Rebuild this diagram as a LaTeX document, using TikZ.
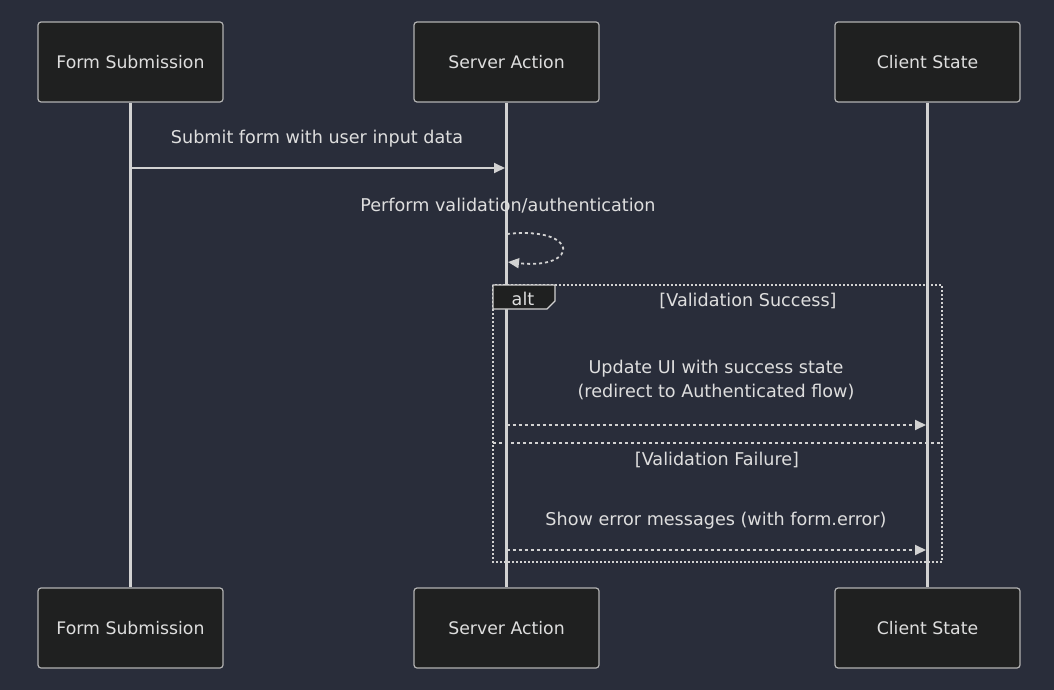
\documentclass[tikz,border=0pt]{standalone}
\usepackage{fontspec}
\setmainfont{DejaVu Sans}
\usetikzlibrary{arrows.meta}
\definecolor{bg}{RGB}{41,45,58}
\definecolor{boxfill}{RGB}{31,32,32}
\definecolor{ln}{RGB}{210,210,210}
\definecolor{txt}{RGB}{222,222,222}
\tikzset{
  actor/.style={draw=ln!85!black, line width=1.2pt, fill=boxfill, rounded corners=3pt, minimum width=185pt, minimum height=80pt, text=txt, font=\fontsize{17.3}{20}\selectfont, inner sep=0pt},
  life/.style={draw=ln, line width=2.2pt},
  msg/.style={draw=ln, line width=1.8pt, -{Triangle[length=11pt,width=10pt]}},
  reply/.style={msg, dash pattern=on 3pt off 3pt},
  lbl/.style={text=txt, font=\fontsize{17.6}{24}\selectfont, align=center, inner sep=0pt},
  frame/.style={draw=ln, line width=2pt, dash pattern=on 2pt off 2pt},
}
\begin{document}
\begin{tikzpicture}[x=1pt,y=-1pt]
\fill[bg] (0,0) rectangle (1054,690);
\useasboundingbox (0,0) rectangle (1054,690);
% participants
\node[actor] (fs) at (130.5,62) {Form Submission};
\node[actor] (sa) at (506.5,62) {Server Action};
\node[actor] (cs) at (927.5,62) {Client State};
\node[actor] (fsb) at (130.5,628) {Form Submission};
\node[actor] (sab) at (506.5,628) {Server Action};
\node[actor] (csb) at (927.5,628) {Client State};
% lifelines
\draw[life] (fs.south) -- (fsb.north);
\draw[life] (sa.south) -- (sab.north);
\draw[life] (cs.south) -- (csb.north);
% message 1
\coordinate (m1a) at (130.5,168);
\coordinate (m1b) at (505,168);
\node[lbl] (t1) at (317,139) {Submit form with user input data};
\draw[msg] (m1a) -- (m1b);
% self message
\node[lbl] (t2) at (508,206) {Perform validation/authentication};
\coordinate (s1) at (507,234);
\coordinate (s2) at (508,262);
\draw[reply] (s1) .. controls (580,226) and (580,270) .. (s2);
% alt frame
\coordinate (fa) at (493,285);
\coordinate (fb) at (942,562);
\draw[frame] (fa) rectangle (fb);
\path[draw=ln, line width=1.2pt, fill=boxfill] (493,285) -- (555,285) -- (555,301) -- (547,309) -- (493,309) -- cycle;
\node[lbl] (altlbl) at (523,299) {alt};
\node[lbl] (c1) at (748,301) {[Validation Success]};
% message 2
\node[lbl] (t3) at (716,380) {Update UI with success state\\(redirect to Authenticated flow)};
\coordinate (m2a) at (506.5,425);
\coordinate (m2b) at (926,425);
\draw[reply] (m2a) -- (m2b);
% divider
\coordinate (da) at (493,443);
\coordinate (db) at (942,443);
\draw[draw=ln, line width=2pt, dash pattern=on 3pt off 3pt] (da) -- (db);
\node[lbl] (c2) at (717,460) {[Validation Failure]};
% message 3
\node[lbl] (t4) at (716,521) {Show error messages (with form.error)};
\coordinate (m3a) at (506.5,550);
\coordinate (m3b) at (926,550);
\draw[reply] (m3a) -- (m3b);
\end{tikzpicture}
\end{document}
